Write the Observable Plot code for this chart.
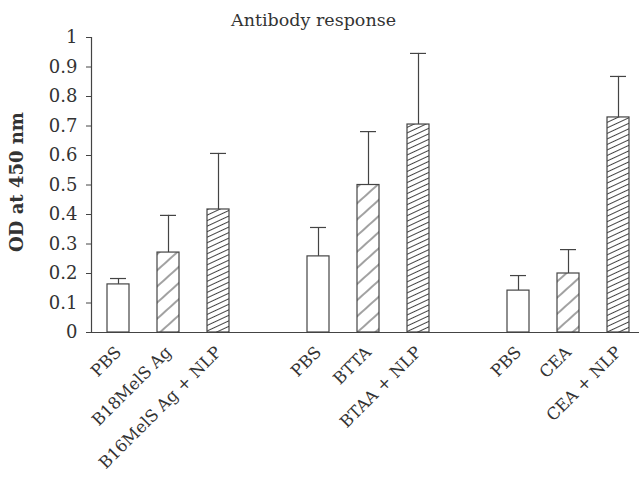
<!DOCTYPE html>
<html>
<head>
<meta charset="utf-8">
<script src="https://cdn.jsdelivr.net/npm/d3@7"></script>
<script src="https://cdn.jsdelivr.net/npm/@observablehq/plot@0.6"></script>
<style>
  html, body { margin: 0; padding: 0; background: #fff; }
</style>
</head>
<body>
<div id="chart"></div>
<script>
// Data
const title = "Antibody response";
const yLabel = "OD at 450 nm";
const slots = ["a1", "a2", "a3", "g1", "b1", "b2", "b3", "g2", "c1", "c2", "c3"];
const ids = ["a1", "a2", "a3", "b1", "b2", "b3", "c1", "c2", "c3"];
const labels = ["PBS", "B18MelS Ag", "B16MelS Ag + NLP", "PBS", "BTTA", "BTAA + NLP", "PBS", "CEA", "CEA + NLP"];
const means = [0.163, 0.271, 0.417, 0.258, 0.500, 0.705, 0.142, 0.200, 0.729];
const upper = [0.183, 0.397, 0.607, 0.356, 0.681, 0.946, 0.193, 0.281, 0.868];
const kinds = ["open", "sparse", "dense", "open", "sparse", "dense", "open", "sparse", "dense"];
const yTicks = [0, 0.1, 0.2, 0.3, 0.4, 0.5, 0.6, 0.7, 0.8, 0.9, 1];

const rows = ids.map((id, i) => ({id, label: labels[i], mean: means[i], upper: upper[i], kind: kinds[i]}));
const labelOf = Object.fromEntries(ids.map((id, i) => [id, labels[i]]));
const fillOf = {open: "white", sparse: "url(#hatchSparse)", dense: "url(#hatchDense)"};

const font = "'DejaVu Serif', 'Liberation Serif', serif";
const ink = "#444";

const chart = Plot.plot({
  width: 639,
  height: 478,
  marginLeft: 91,
  marginRight: 0,
  marginTop: 37,
  marginBottom: 146,
  style: {fontFamily: font, fontSize: "18px", color: "#333", background: "white"},
  x: {domain: slots, range: [93, 643], paddingInner: 0.56, paddingOuter: 0.28, align: 0.5, label: null},
  y: {domain: [0, 1], label: null, ticks: yTicks},
  marks: [
    Plot.axisY({ticks: yTicks, tickFormat: d => String(d), tickSize: 5, tickPadding: 9, fontSize: 18, label: null, stroke: ink}),
    Plot.axisX({tickSize: 0, tickFormat: d => labelOf[d] ?? "", tickRotate: -45, tickPadding: 17, fontSize: 16.5, label: null, textAnchor: "end"}),
    Plot.frame({anchor: "left", stroke: ink, strokeWidth: 1.2}),
    Plot.ruleY([0], {stroke: ink, strokeWidth: 1.2}),
    Plot.ruleX(rows, {x: "id", y1: "mean", y2: "upper", stroke: ink, strokeWidth: 1.2}),
    Plot.tickY(rows, {x: "id", y: "upper", stroke: ink, strokeWidth: 1.2, inset: 3}),
    Plot.barY(rows, {x: "id", y: "mean", fill: d => fillOf[d.kind], stroke: ink, strokeWidth: 1.2}),
    Plot.text([title], {frameAnchor: "top", dy: -24, dx: -52, fontSize: 17.5, fill: "#333"}),
    Plot.text([yLabel], {frameAnchor: "left", textAnchor: "middle", dx: -74, dy: -3, rotate: -90, fontSize: 18, fontWeight: "bold", fill: "#333"})
  ]
});

// hatch patterns
const ns = "http://www.w3.org/2000/svg";
const defs = document.createElementNS(ns, "defs");
defs.innerHTML = `
  <pattern id="hatchSparse" patternUnits="userSpaceOnUse" width="12" height="12" patternTransform="rotate(-42)">
    <rect width="12" height="12" fill="white"/>
    <line x1="0" y1="6" x2="12" y2="6" stroke="#444" stroke-width="1"/>
  </pattern>
  <pattern id="hatchDense" patternUnits="userSpaceOnUse" width="5" height="5" patternTransform="rotate(-25)">
    <rect width="5" height="5" fill="white"/>
    <line x1="0" y1="2.5" x2="5" y2="2.5" stroke="#444" stroke-width="1"/>
  </pattern>`;
chart.insertBefore(defs, chart.firstChild);
document.getElementById("chart").appendChild(chart);
</script>
</body>
</html>
